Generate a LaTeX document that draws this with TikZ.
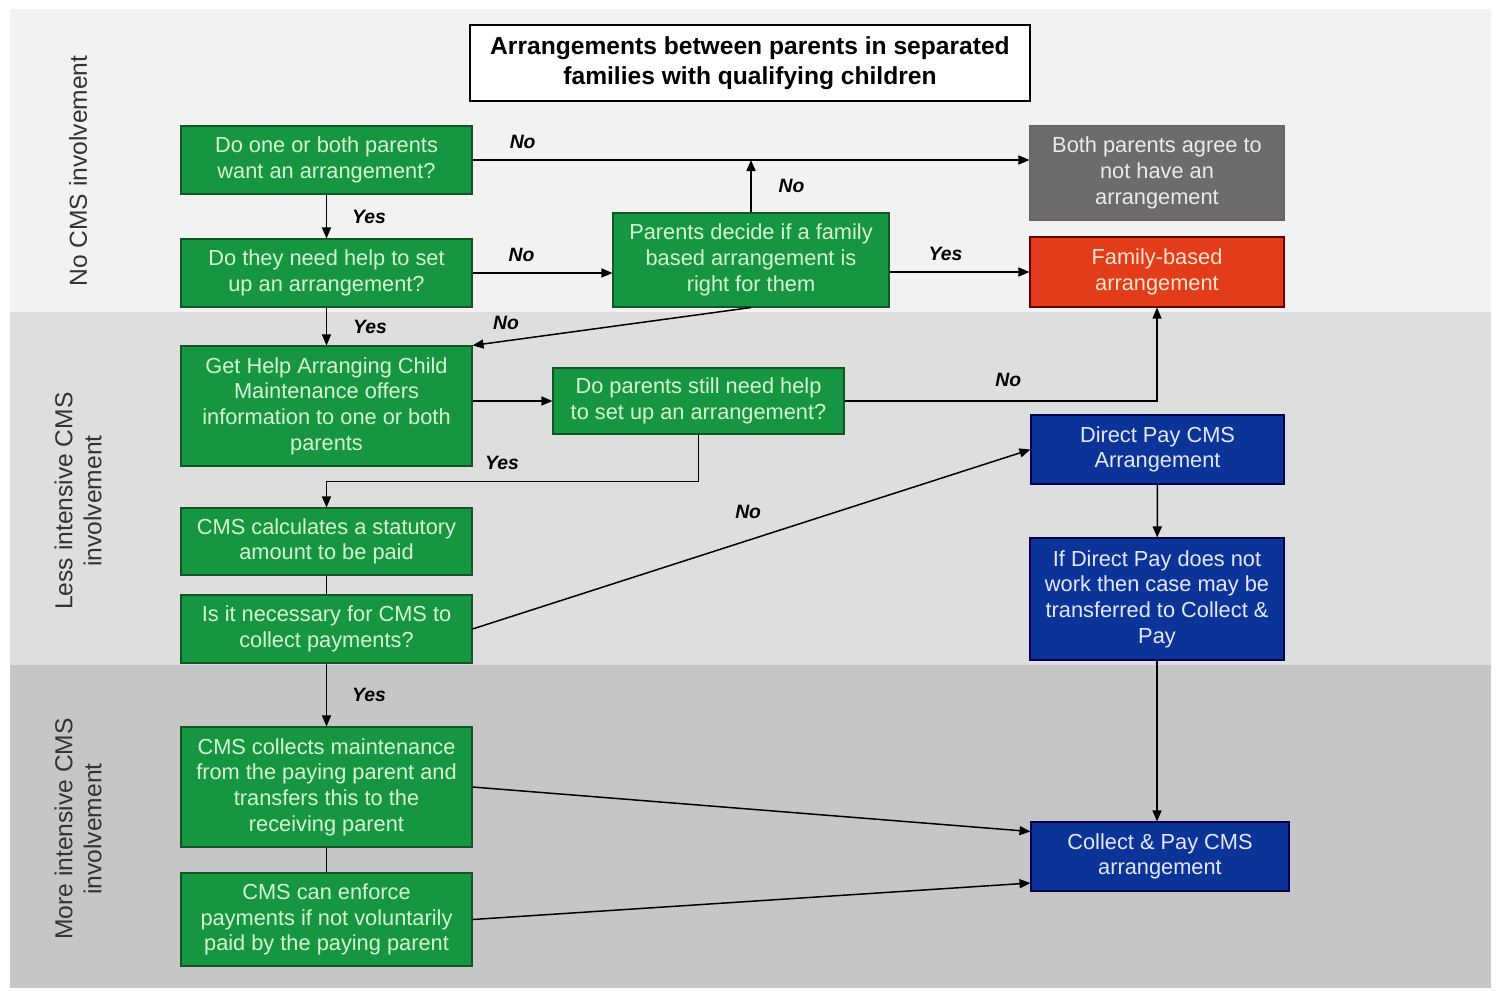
\documentclass[tikz,border=0pt]{standalone}
\usepackage{fontspec}
\setmainfont{Liberation Sans}
\usetikzlibrary{arrows.meta,calc,positioning}
\definecolor{bandlight}{RGB}{242,242,242}
\definecolor{bandmid}{RGB}{222,222,222}
\definecolor{banddark}{RGB}{198,198,198}
\definecolor{cmsgreen}{RGB}{22,150,64}
\definecolor{cmsgreenline}{RGB}{20,85,40}
\definecolor{greentext}{RGB}{214,246,210}
\definecolor{cmsgrey}{RGB}{110,107,108}
\definecolor{cmsred}{RGB}{226,60,26}
\definecolor{redtext}{RGB}{255,228,205}
\definecolor{cmsblue}{RGB}{12,52,152}
\definecolor{bluetext}{RGB}{228,232,255}

\begin{document}
\begin{tikzpicture}[x=0.2mm,y=-0.2mm,->,>={Triangle[length=2.2mm,width=1.8mm]},line width=0.85pt,
    box/.style={draw, line width=0.6pt, align=center, inner sep=0pt, font=\fontsize{12.4}{14.6}\selectfont},
    greenbox/.style={box, fill=cmsgreen, draw=cmsgreenline, text=greentext, minimum width=58.2mm},
    greybox/.style={box, fill=cmsgrey, draw=black!60, text=black!8, minimum width=50.8mm},
    redbox/.style={box, fill=cmsred, draw=red!40!black, text=redtext, minimum width=50.8mm},
    bluebox/.style={box, fill=cmsblue, draw=blue!30!black, text=bluetext, minimum width=50.6mm},
    answer/.style={font=\fontsize{11}{13}\selectfont\bfseries\itshape, text=black},
    bandlabel/.style={font=\fontsize{14}{16.5}\selectfont, rotate=90, align=center, text=black!80}]
    % page and bands
    \useasboundingbox (0,0) rectangle (1496,990);
    \fill[white] (0,0) rectangle (1496,990);
    \fill[bandlight] (10,9) rectangle (1491,312);
    \fill[bandmid] (10,312) rectangle (1491,665);
    \fill[banddark] (10,665) rectangle (1491,988);

    \node[bandlabel] (nocms) at (78,171) {No CMS involvement};
    \node[bandlabel] (lesscms) at (78,501) {Less intensive CMS\\involvement};
    \node[bandlabel] (morecms) at (78,829) {More intensive CMS\\involvement};

    \node[draw=black, fill=white, line width=1.2pt, align=center, minimum width=112mm, minimum height=15.2mm,
          font=\fontsize{14}{17}\selectfont\bfseries] (title) at (750,63)
          {Arrangements between parents in separated\\families with qualifying children};

    % left column
    \node[greenbox, minimum height=13.6mm] (want) at (326.5,160) {Do one or both parents\\want an arrangement?};
    \node[greenbox, minimum height=13.6mm] (help) at (326.5,273) {Do they need help to set\\up an arrangement?};
    \node[greenbox, minimum height=24mm] (getinfo) at (326.5,406) {Get Help Arranging Child\\Maintenance offers\\information to one or both\\parents};
    \node[greenbox, minimum height=13.4mm] (calc) at (326.5,541.5) {CMS calculates a statutory\\amount to be paid};
    \node[greenbox, minimum height=13.6mm] (necessary) at (326.5,629) {Is it necessary for CMS to\\collect payments?};
    \node[greenbox, minimum height=24mm] (collects) at (326.5,787) {CMS collects maintenance\\from the paying parent and\\transfers this to the\\receiving parent};
    \node[greenbox, minimum height=18.6mm] (enforce) at (326.5,919.5) {CMS can enforce\\payments if not voluntarily\\paid by the paying parent};

    % middle column
    \node[greenbox, minimum width=55.2mm, minimum height=18.8mm] (decide) at (751,260) {Parents decide if a family\\based arrangement is\\right for them};
    \node[greenbox, minimum height=13.2mm] (still) at (698.5,401) {Do parents still need help\\to set up an arrangement?};

    % right column
    \node[greybox, minimum height=18.8mm] (agree) at (1157,173) {Both parents agree to\\not have an\\arrangement};
    \node[redbox, minimum height=14mm] (family) at (1157,272) {Family-based\\arrangement};
    \node[bluebox, minimum height=13.8mm] (direct) at (1157.5,449.5) {Direct Pay CMS\\Arrangement};
    \node[bluebox, minimum width=50.8mm, minimum height=24.4mm] (transfer) at (1157,599) {If Direct Pay does not\\work then case may be\\transferred to Collect \&\\Pay};
    \node[bluebox, minimum width=51.6mm, minimum height=13.8mm] (collect) at (1160,856.5) {Collect \& Pay CMS\\arrangement};

    % connectors
    \draw (want.east) -- node[answer, above=1mm, pos=0.09] (no1) {No} (want.east -| agree.west);
    \draw (want) -- node[answer, right=3.8mm] (yes1) {Yes} (help);
    \draw (help.east) -- node[answer, above=1mm, pos=0.35] (no2) {No} (help.east -| decide.west);
    \draw (decide.north) -- node[answer, right=4.2mm] (no3) {No} (decide.north |- want.east);
    \draw (family.west -| decide.east) -- node[answer, above=1mm, pos=0.4] (yes2) {Yes} (family.west);
    \draw (help) -- node[answer, right=4mm] (yes3) {Yes} (getinfo);
    \draw (decide.south) -- node[answer, above=1mm, pos=0.88] (no4) {No} (getinfo.north east);
    \draw (still.west -| getinfo.east) -- (still.west);
    \draw (still.east) -| node[answer, above=1.5mm, pos=0.262] (no5) {No} (family.south);
    \draw (still.south) -- ++(0,47) -| node[answer, above=1mm, pos=0.264] (yes4) {Yes} (calc.north);
    \draw[-] (calc) -- (necessary);
    \draw (necessary.east) -- node[answer, above=3mm, pos=0.494] (no6) {No} (direct.west);
    \draw (direct) -- (transfer);
    \draw (necessary) -- node[answer, right=3.8mm] (yes5) {Yes} (collects);
    \draw[-] (collects) -- (enforce);
    \draw (collects.east) -- ([yshift=5mm]collect.west);
    \draw (enforce.east) -- ([yshift=-5.3mm]collect.west);
    \draw (transfer) -- (collect.north -| transfer.south);
\end{tikzpicture}
\end{document}
